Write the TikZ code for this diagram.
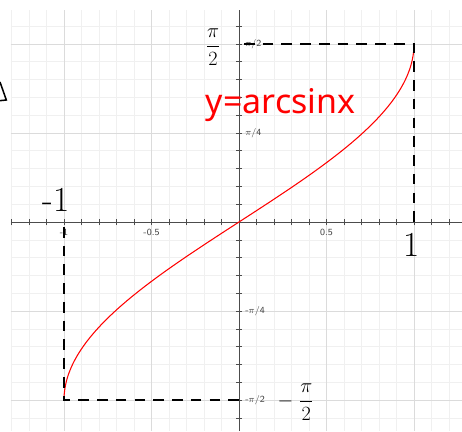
\documentclass[tikz,border=0pt]{standalone}
\usepackage{fontspec}
\usepackage{amsmath}
\usetikzlibrary{positioning}
\newfontfamily\handfont{Noto Sans}
\tikzset{
  gridminor/.style = {black!6, line width=0.5pt},
  gridmajor/.style = {black!14, line width=0.6pt},
  axisline/.style  = {black!70, line width=0.7pt},
  tickmark/.style  = {black!70, line width=0.5pt},
  ticklab/.style   = {font=\fontsize{8}{8}\selectfont\sffamily, text=black!75, inner sep=1pt},
  hand/.style      = {black, inner sep=0pt, font=\fontsize{19}{19}\selectfont},
  guide/.style     = {black, line width=1.7pt, dash pattern=on 9pt off 7pt},
  curve/.style     = {red, line width=0.9pt},
}

\begin{document}
\begin{tikzpicture}[x=5.25cm, y=3.4cm]
  \useasboundingbox[fill=white] (-7.17cm,-6.27cm) rectangle (6.69cm,6.66cm);
  % grid
  \foreach \i in {-13,...,12}
    \draw[gridminor] (\i/10,-6.27cm) -- (\i/10,6.36cm);
  \foreach \j in {-11,...,11}
    \draw[gridminor] (-6.84cm,\j*pi/20) -- (6.69cm,\j*pi/20);
  \foreach \i in {-1,-0.5,0.5,1}
    \draw[gridmajor] (\i,-6.27cm) -- (\i,6.36cm);
  \foreach \j in {-2,-1,1,2}
    \draw[gridmajor] (-6.84cm,\j*pi/4) -- (6.69cm,\j*pi/4);
  % axes
  \coordinate (xl) at (-6.84cm,0);
  \coordinate (xr) at (6.69cm,0);
  \coordinate (yb) at (0,-6.27cm);
  \coordinate (yt) at (0,6.36cm);
  \draw[axisline] (xl) -- (xr);
  \draw[axisline] (yb) -- (yt);
  \foreach \i in {-13,...,12}
    \draw[tickmark] (\i/10,-0.09cm) -- (\i/10,0.09cm);
  \foreach \j in {-11,...,11}
    \draw[tickmark] (-0.09cm,\j*pi/20) -- (0.09cm,\j*pi/20);
  \node[ticklab] (xm1)  at (-1,-0.3cm) {-1};
  \node[ticklab] (xm05) at (-0.5,-0.3cm) {-0.5};
  \node[ticklab] (xp05) at (0.5,-0.3cm) {0.5};
  \node[ticklab, anchor=west] (yp2) at (0.15cm,pi/2) {$\pi$/2};
  \node[ticklab, anchor=west] (yp4) at (0.15cm,pi/4) {$\pi$/4};
  \node[ticklab, anchor=west] (ym4) at (0.15cm,-pi/4) {-$\pi$/4};
  \node[ticklab, anchor=west] (ym2) at (0.15cm,-pi/2) {-$\pi$/2};
  % curve
  \draw[curve] plot[domain=-90:90, samples=120, smooth] ({sin(\x)}, {\x*pi/180});
  % guides
  \coordinate (lo) at (-1,-0.15cm);
  \coordinate (lb) at (-1,-pi/2);
  \coordinate (bo) at (0,-pi/2);
  \coordinate (to) at (0.15cm,pi/2);
  \coordinate (tr) at (1,pi/2);
  \coordinate (ro) at (1,-0.15cm);
  \draw[guide] (lo) -- (lb) -- (bo);
  \draw[guide] (to) -- (tr) -- (ro);
  % handwriting
  \node[hand] (hpi)  at (-0.78cm,5.25cm) {$\dfrac{\pi}{2}$};
  \node[hand] (hmpi) at (1.7cm,-5.4cm) {$-\;\dfrac{\pi}{2}$};
  \node[hand, font=\fontsize{30}{30}\selectfont] (hm1) at (-5.49cm,0.66cm) {-1};
  \node[hand, font=\fontsize{30}{30}\selectfont] (hp1) at (5.19cm,-0.69cm) {1};
  \node[hand, red, font=\fontsize{29}{29}\selectfont\handfont] (fname) at (1.25cm,3.5cm) {y=arcsinx};
  \draw[black, line width=1.3pt] (-7.17cm,4.2cm) -- (-6.98cm,3.66cm) -- (-7.17cm,3.64cm);
\end{tikzpicture}
\end{document}
